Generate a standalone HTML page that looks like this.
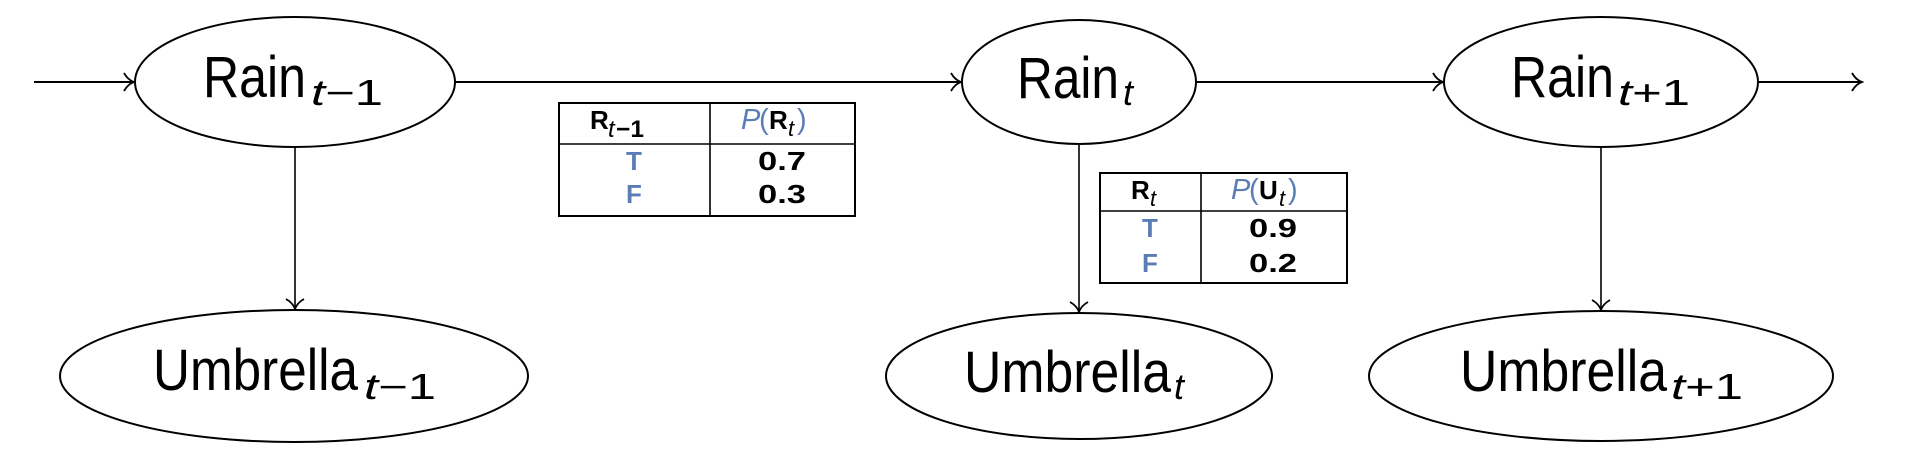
<!DOCTYPE html>
<html><head><meta charset="utf-8"><style>
html,body{margin:0;padding:0;background:#fff;}
svg{display:block;}
text{font-family:"Liberation Sans",sans-serif;fill:#000;}
.big{font-size:58px;}
.sub{font-size:36px;font-style:italic;}
.num{font-size:36px;font-style:normal;}
.tb{font-size:26px;font-weight:bold;}
.blue{fill:#5b7db5;}
</style></head><body>
<svg width="1930" height="464" viewBox="0 0 1930 464">
<defs>
<marker id="ah" markerWidth="14" markerHeight="20" refX="12" refY="10" orient="auto" markerUnits="userSpaceOnUse">
<path d="M2,1 Q6,8 12,10 Q6,12 2,19" fill="none" stroke="#000" stroke-width="1.8"/>
</marker>
</defs>
<g stroke="#000" stroke-width="2" fill="none">
<line x1="34" y1="82" x2="134" y2="82" marker-end="url(#ah)"/>
<line x1="455" y1="82" x2="961" y2="82" marker-end="url(#ah)"/>
<line x1="1196" y1="82" x2="1443" y2="82" marker-end="url(#ah)"/>
<line x1="1758" y1="82" x2="1862" y2="82" marker-end="url(#ah)"/>
<line x1="295" y1="147" x2="295" y2="309" stroke-width="1.6" marker-end="url(#ah)"/>
<line x1="1079" y1="144" x2="1079" y2="312" stroke-width="1.6" marker-end="url(#ah)"/>
<line x1="1601" y1="147" x2="1601" y2="310" stroke-width="1.6" marker-end="url(#ah)"/>
<ellipse cx="295" cy="82" rx="160" ry="65"/>
<ellipse cx="1079" cy="82" rx="117" ry="62"/>
<ellipse cx="1601" cy="82" rx="157" ry="65"/>
<ellipse cx="294" cy="376" rx="234" ry="66"/>
<ellipse cx="1079" cy="376" rx="193" ry="63"/>
<ellipse cx="1601" cy="376" rx="232" ry="65"/>
</g>
<g>
<text class="big" x="203" y="97" textLength="103" lengthAdjust="spacingAndGlyphs">Rain</text>
<text class="sub" x="311" y="105" textLength="72" lengthAdjust="spacingAndGlyphs">t<tspan class="num">−1</tspan></text>
<text class="big" x="1017" y="98" textLength="102" lengthAdjust="spacingAndGlyphs">Rain</text>
<text class="sub" x="1123" y="105">t</text>
<text class="big" x="1511" y="97" textLength="103" lengthAdjust="spacingAndGlyphs">Rain</text>
<text class="sub" x="1618" y="105" textLength="72" lengthAdjust="spacingAndGlyphs">t<tspan class="num">+1</tspan></text>
<text class="big" x="153" y="390" textLength="205" lengthAdjust="spacingAndGlyphs">Umbrella</text>
<text class="sub" x="364" y="399" textLength="72" lengthAdjust="spacingAndGlyphs">t<tspan class="num">−1</tspan></text>
<text class="big" x="964" y="392" textLength="207" lengthAdjust="spacingAndGlyphs">Umbrella</text>
<text class="sub" x="1174" y="399">t</text>
<text class="big" x="1460" y="391" textLength="207" lengthAdjust="spacingAndGlyphs">Umbrella</text>
<text class="sub" x="1671" y="399" textLength="72" lengthAdjust="spacingAndGlyphs">t<tspan class="num">+1</tspan></text>
</g>
<g>
<rect x="559" y="103" width="296" height="113" fill="none" stroke="#000" stroke-width="2"/>
<line x1="710" y1="103" x2="710" y2="216" stroke="#000" stroke-width="1.6"/>
<line x1="559" y1="144" x2="855" y2="144" stroke="#000" stroke-width="1.6"/>
<text class="tb" x="590" y="129">R</text>
<text x="608" y="137" style="font-size:24px;font-style:italic">t</text>
<text x="616" y="137" style="font-size:24px;font-weight:bold" textLength="28" lengthAdjust="spacingAndGlyphs">−1</text>
<text class="blue" x="741" y="129" style="font-size:29px;font-style:italic">P</text>
<text class="blue" x="759" y="129" style="font-size:29px">(</text>
<text class="tb" x="769" y="129">R</text>
<text x="788" y="136" style="font-size:22px;font-style:italic">t</text>
<text class="blue" x="797" y="129" style="font-size:29px">)</text>
<text class="tb blue" x="634" y="170" text-anchor="middle">T</text>
<text class="tb" x="758" y="170" textLength="48" lengthAdjust="spacingAndGlyphs">0.7</text>
<text class="tb blue" x="634" y="203" text-anchor="middle">F</text>
<text class="tb" x="758" y="203" textLength="48" lengthAdjust="spacingAndGlyphs">0.3</text>
</g>
<g>
<rect x="1100" y="173" width="247" height="110" fill="none" stroke="#000" stroke-width="2"/>
<line x1="1201" y1="173" x2="1201" y2="283" stroke="#000" stroke-width="1.6"/>
<line x1="1100" y1="211" x2="1347" y2="211" stroke="#000" stroke-width="1.6"/>
<text class="tb" x="1131" y="199">R</text>
<text x="1150" y="206" style="font-size:22px;font-style:italic">t</text>
<text class="blue" x="1231" y="199" style="font-size:29px;font-style:italic">P</text>
<text class="blue" x="1249" y="199" style="font-size:29px">(</text>
<text class="tb" x="1259" y="199">U</text>
<text x="1279" y="206" style="font-size:22px;font-style:italic">t</text>
<text class="blue" x="1288" y="199" style="font-size:29px">)</text>
<text class="tb blue" x="1150" y="237" text-anchor="middle">T</text>
<text class="tb" x="1249" y="237" textLength="48" lengthAdjust="spacingAndGlyphs">0.9</text>
<text class="tb blue" x="1150" y="272" text-anchor="middle">F</text>
<text class="tb" x="1249" y="272" textLength="48" lengthAdjust="spacingAndGlyphs">0.2</text>
</g>
</svg>
</body></html>
